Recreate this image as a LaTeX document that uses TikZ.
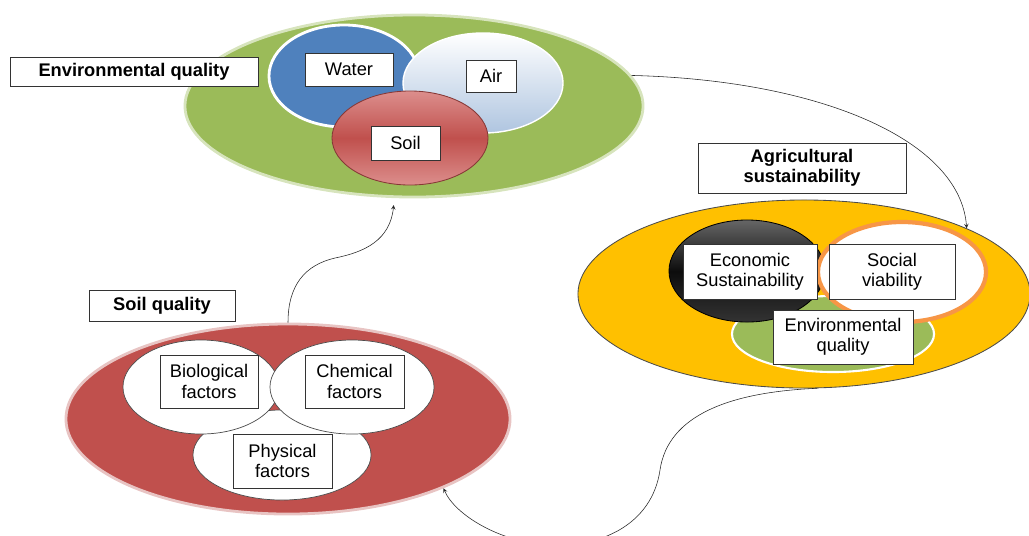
\documentclass[tikz,border=0pt]{standalone}
\usepackage{fontspec}
\setmainfont{Liberation Sans}
\usetikzlibrary{shapes.geometric}

\definecolor{envgreen}{HTML}{9BBB59}
\definecolor{greenpale}{HTML}{D7E4BD}
\definecolor{waterblue}{HTML}{4F81BD}
\definecolor{airblue}{HTML}{AFC5E0}
\definecolor{soilred}{HTML}{C0504D}
\definecolor{soilpink}{HTML}{DC8E8C}
\definecolor{redpale}{HTML}{E8C4C3}
\definecolor{agryellow}{HTML}{FFC000}
\definecolor{socorange}{HTML}{F79646}

\tikzset{
  oval/.style={ellipse, inner sep=0pt},
  lbl/.style={draw=black!80, fill=white, align=center, inner sep=1pt,
    font=\fontsize{13}{14.5}\selectfont},
  titlebox/.style={lbl, font=\fontsize{13}{14.5}\selectfont\bfseries},
}

\begin{document}
\begin{tikzpicture}[x=0.025cm, y=-0.025cm]
        % --- 画像の範囲 ---
        \useasboundingbox (0,0) rectangle (1029,535);

        % --- 環境の質 (上) ---
        \node[oval, fill=envgreen, draw=greenpale, line width=2pt,
              minimum width=11.45cm, minimum height=4.55cm] (envell) at (414,106) {};
        \node[oval, fill=waterblue, draw=white, line width=2pt,
              minimum width=3.75cm, minimum height=2.55cm] (waterell) at (344,76) {};
        \node[oval, top color=white, bottom color=airblue, draw=white, line width=1pt,
              minimum width=4cm, minimum height=2.5cm] (airell) at (483,83) {};
        \node[oval, top color=soilpink, bottom color=soilpink, middle color=soilred,
              draw=soilred!70!black, line width=0.6pt,
              minimum width=3.9cm, minimum height=2.35cm] (soilell) at (410,138) {};
        \node[lbl, minimum width=2.2cm, minimum height=0.825cm] (water) at (349,69.5) {Water};
        \node[lbl, minimum width=1.25cm, minimum height=0.8cm] (air) at (491,76) {Air};
        \node[lbl, minimum width=1.725cm, minimum height=0.85cm] (soil) at (405.5,143) {Soil};
        \node[titlebox, minimum width=6.2cm, minimum height=0.725cm] (envtitle) at (134,71.5) {Environmental quality};

        % --- 農業の持続可能性 (右) ---
        \node[oval, fill=agryellow, draw=black!70, line width=0.6pt,
              minimum width=11.3cm, minimum height=4.7cm] (agrell) at (804,294) {};
        \node[oval, fill=envgreen, draw=white, line width=1.5pt,
              minimum width=5.05cm, minimum height=1.9cm] (greenell) at (833,334) {};
        \node[oval, top color=black!60, bottom color=black!80, middle color=black!95, draw=black, line width=0.6pt,
              minimum width=3.9cm, minimum height=2.55cm] (econell) at (747,271) {};
        \node[oval, fill=white, draw=socorange, line width=3pt,
              minimum width=4.2cm, minimum height=2.5cm] (socell) at (902,272) {};
        \node[lbl, minimum width=3.35cm, minimum height=1.375cm] (econ) at (750,271.5) {Economic\\Sustainability};
        \node[lbl, minimum width=3.15cm, minimum height=1.375cm] (social) at (892,271.5) {Social\\viability};
        \node[lbl, minimum width=3.5cm, minimum height=1.35cm] (envq) at (843,337) {Environmental\\quality};
        \node[titlebox, minimum width=5.2cm, minimum height=1.25cm] (agrtitle) at (802,168) {Agricultural\\sustainability};

        % --- 土壌の質 (左) ---
        \node[oval, fill=soilred, draw=redpale, line width=2pt,
              minimum width=11.1cm, minimum height=4.75cm] (redell) at (288,419) {};
        \node[oval, fill=white, draw=black!70, line width=0.5pt,
              minimum width=4.45cm, minimum height=2.25cm] (physell) at (282,455) {};
        \node[oval, fill=white, draw=black!70, line width=0.5pt,
              minimum width=3.9cm, minimum height=2.35cm] (bioell) at (201,387) {};
        \node[oval, fill=white, draw=black!70, line width=0.5pt,
              minimum width=4.1cm, minimum height=2.35cm] (chemell) at (352,387) {};
        \node[lbl, minimum width=2.45cm, minimum height=1.325cm] (bio) at (209,381.5) {Biological\\factors};
        \node[lbl, minimum width=2.475cm, minimum height=1.325cm] (chem) at (354.5,381.5) {Chemical\\factors};
        \node[lbl, minimum width=2.475cm, minimum height=1.35cm] (phys) at (282.5,461) {Physical\\factors};
        \node[titlebox, minimum width=3.65cm, minimum height=0.775cm] (soiltitle) at (162,305.5) {Soil quality};

        % --- 矢印 ---
        \draw[->, >=stealth, black!85, thin] (envell.8) .. controls (820,80) and (960,140) .. (agrell.22);
        \draw[->, >=stealth, black!85, thin] (agrell.-82) .. controls (730,392) and (668,415) .. (660,470)
              .. controls (652,525) and (600,548) .. (548,545)
              .. controls (500,542) and (455,515) .. (redell.-24);
        \draw[->, >=stealth, black!85, thin, shorten >=5pt] (redell.90) .. controls (288,285) and (305,265) .. (335,258)
              .. controls (365,252) and (390,240) .. (envell.-102);

\end{tikzpicture}
\end{document}
